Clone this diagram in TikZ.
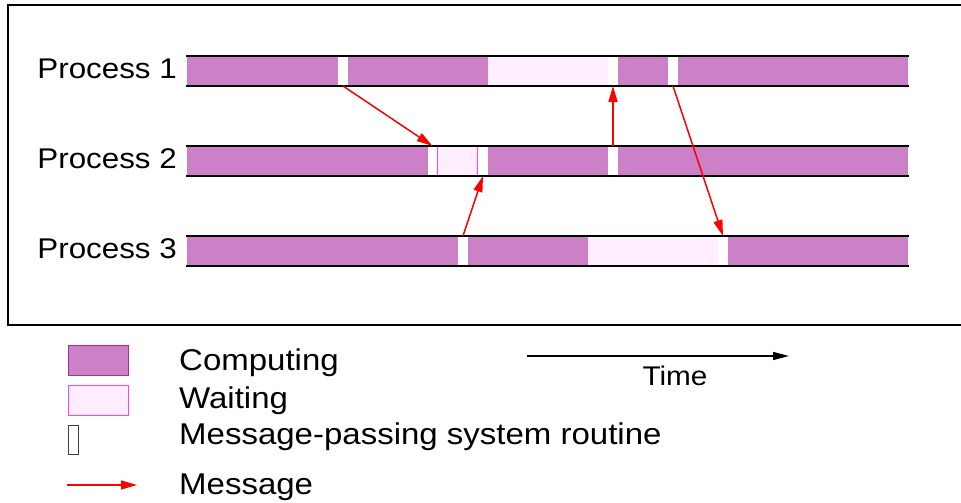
\documentclass[tikz,border=0pt]{standalone}
\usepackage{fontspec}
\setmainfont[FakeStretch=1.1]{Liberation Sans}
\usetikzlibrary{arrows.meta}

\definecolor{compfill}{HTML}{CC80C8}
\definecolor{compedge}{HTML}{A030A0}
\definecolor{waitfill}{HTML}{FFEEFF}
\definecolor{waitedge}{HTML}{FF40FF}
\definecolor{msgred}{HTML}{FF0000}
\definecolor{routedge}{HTML}{404040}

\tikzset{
  seg/.style={inner sep=0pt, outer sep=0pt, minimum height=30pt, anchor=west},
  comp/.style={seg, fill=compfill},
  wait/.style={seg, fill=waitfill},
  gap/.style={seg, fill=white, minimum width=10pt},
  rail/.style={line width=2pt, black},
  msg/.style={draw=msgred, line width=1.5pt, -{Triangle[length=16pt, width=9pt]}},
  proclabel/.style={anchor=base east, inner sep=0pt, font=\fontsize{28.5}{31}\selectfont},
  legtext/.style={anchor=base west, inner sep=0pt, font=\fontsize{30}{33}\selectfont},
}

\begin{document}
\begin{tikzpicture}[x=1pt, y=-1pt]
  \clip (0,0) rectangle (961,503);
  \fill[white] (0,0) rectangle (961,503);

  % outer frame (runs off the right edge)
  \draw[line width=2.5pt] (980,5) -- (8,5) -- (8,325) -- (980,325);

  % ---- Process 1 ----
  \node[comp, minimum width=151pt] (p1c1) at (187,71) {};
  \node[gap] (p1g1) at (338,71) {};
  \node[comp, minimum width=140pt] (p1c2) at (348,71) {};
  \node[wait, minimum width=120pt] (p1w1) at (488,71) {};
  \node[gap] (p1g2) at (608,71) {};
  \node[comp, minimum width=50pt] (p1c3) at (618,71) {};
  \node[gap] (p1g3) at (668,71) {};
  \node[comp, minimum width=230pt] (p1c4) at (678,71) {};
  \draw[rail] (186,56) -- (909,56);
  \draw[rail] (186,86) -- (909,86);

  % ---- Process 2 ----
  \node[comp, minimum width=241pt] (p2c1) at (187,161) {};
  \node[gap, minimum width=9pt] (p2g1) at (428,161) {};
  \node[wait, minimum width=41pt] (p2w1) at (437,161) {};
  \draw[waitedge, line width=1.2pt] (p2w1.north west) ++(0.6,0) -- ++(0,30);
  \draw[waitedge, line width=1.2pt] (p2w1.north east) ++(-0.6,0) -- ++(0,30);
  \node[gap] (p2g2) at (478,161) {};
  \node[comp, minimum width=120pt] (p2c2) at (488,161) {};
  \node[gap] (p2g3) at (608,161) {};
  \node[comp, minimum width=290pt] (p2c3) at (618,161) {};
  \draw[rail] (186,146) -- (909,146);
  \draw[rail] (186,176) -- (909,176);

  % ---- Process 3 ----
  \node[comp, minimum width=271pt] (p3c1) at (187,251) {};
  \node[gap] (p3g1) at (458,251) {};
  \node[comp, minimum width=120pt] (p3c2) at (468,251) {};
  \node[wait, minimum width=130pt] (p3w1) at (588,251) {};
  \node[gap] (p3g2) at (718,251) {};
  \node[comp, minimum width=180pt] (p3c3) at (728,251) {};
  \draw[rail] (186,236) -- (909,236);
  \draw[rail] (186,266) -- (909,266);

  % process labels
  \node[proclabel] (l1) at (177,78.5) {Process 1};
  \node[proclabel] (l2) at (177,168.5) {Process 2};
  \node[proclabel] (l3) at (177,258.5) {Process 3};

  % messages
  \draw[msg] (p1g1.south) -- (p2g1.north);
  \draw[msg] (p3g1.north) -- (p2g2.south);
  \draw[msg] (p2g3.north) -- (p1g2.south);
  \draw[msg] (p1g3.south) -- (p3g2.north);

  % time axis
  \coordinate (t0) at (527,356);
  \coordinate (t1) at (789,356);
  \draw[line width=1.6pt, -{Triangle[length=16pt, width=8pt]}] (t0) -- (t1);
  \node[anchor=base, inner sep=0pt, font=\fontsize{27}{30}\selectfont] (time) at (675,385) {Time};

  % legend
  \node[inner sep=0pt, minimum width=60pt, minimum height=30pt, anchor=north west,
        fill=compfill, draw=compedge, line width=1pt] (kc) at (67.5,344.5) {};
  \node[inner sep=0pt, minimum width=60pt, minimum height=30pt, anchor=north west,
        fill=waitfill, draw=waitedge, line width=1pt] (kw) at (67.5,384.5) {};
  \node[inner sep=0pt, minimum width=10pt, minimum height=29pt, anchor=north west,
        fill=white, draw=routedge, line width=1pt] (kr) at (67.5,424.5) {};
  \coordinate (km0) at (67,485);
  \coordinate (km1) at (137,485);
  \draw[msg] (km0) -- (km1);

  \node[legtext] (tc) at (179,370) {Computing};
  \node[legtext] (tw) at (179,408) {Waiting};
  \node[legtext] (tr) at (179,444) {Message-passing system routine};
  \node[legtext] (tm) at (179,494) {Message};
\end{tikzpicture}
\end{document}
